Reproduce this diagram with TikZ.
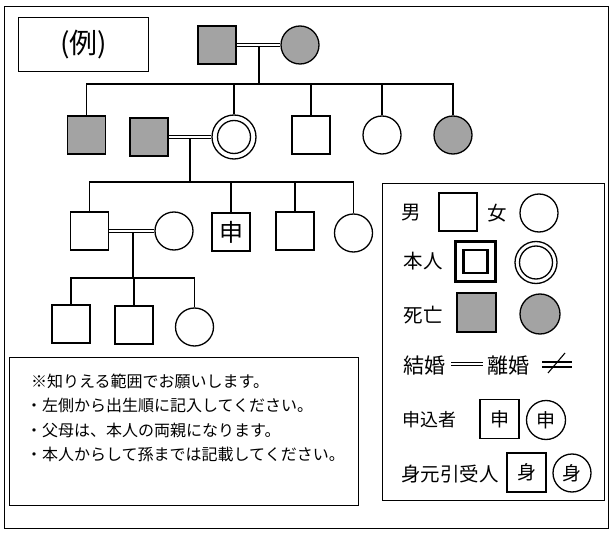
\documentclass[tikz,border=0pt]{standalone}
\usepackage{fontspec}
\setmainfont{Noto Sans CJK JP}
\usetikzlibrary{backgrounds}
\definecolor{deadgray}{gray}{0.64}
\begin{document}
\begin{tikzpicture}[x=1pt,y=-1pt,
  sq/.style={draw, rectangle, fill=white, minimum size=38pt, inner sep=0pt, line width=1.3pt},
  ci/.style={draw, circle, fill=white, minimum size=38pt, inner sep=0pt, line width=1.3pt},
  dead/.style={fill=deadgray},
  link/.style={line width=1.1pt},
  marry/.style={double, double distance=2.8pt, line width=1pt},
  selfci/.style={ci, minimum size=44pt, path picture={\draw[line width=1.3pt] (path picture bounding box.center) circle (16.5pt);}},
  selfsq/.style={sq, minimum size=40pt, line width=2.3pt, path picture={\draw[line width=2.3pt] (path picture bounding box.center) ++(-12pt,-11.5pt) rectangle ++(24pt,23pt);}},
  box/.style={draw, line width=1.3pt, anchor=north west, inner sep=0pt},
  lbl/.style={inner sep=0pt, font=\fontsize{19.5}{19.5}\selectfont},
  note/.style={inner sep=0pt, anchor=west, font=\fontsize{16}{16}\selectfont},
  sym/.style={font=\fontsize{19}{19}\selectfont}
]
\useasboundingbox (0,0) rectangle (613,540);
% frames
\node[box, minimum width=604pt, minimum height=522pt] (frame) at (4,6) {};
\node[box, minimum width=130pt, minimum height=54pt] (ex) at (18,17) {};
\node[font=\fontsize{28}{28}\selectfont, inner sep=0pt] (extxt) at (ex.center) {(例)};

% generation 1
\node[sq,dead] (gf) at (217,45) {};
\node[ci,dead] (gm) at (300,45) {};
\coordinate (m1) at (259,45);
\coordinate (bar1) at (259,84);

% generation 2
\node[sq,dead] (c1) at (86.5,135) {};
\node[sq,dead] (s2) at (149,137) {};
\node[selfci] (me) at (234,137) {};
\node[sq] (c4) at (311,135) {};
\node[ci] (c5) at (382,135) {};
\node[ci,dead] (c6) at (453,135) {};
\coordinate (m2) at (190,137);
\coordinate (bar2) at (190,182);

% generation 3
\node[sq] (d1) at (89.5,231) {};
\node[ci] (d2) at (174,231) {};
\node[sq, font=\fontsize{24}{24}\selectfont] (d3) at (231,232) {申};
\node[sq] (d4) at (295,231) {};
\node[ci] (d5) at (353.5,233) {};
\coordinate (m3) at (133,231);
\coordinate (bar3) at (133,278);

% generation 4
\node[sq] (e1) at (71,324) {};
\node[sq] (e2) at (134,325) {};
\node[ci] (e3) at (194.5,327) {};

\begin{scope}[on background layer]
  \draw[link] (m1) -- (bar1);
  \draw[link] (c1.north) |- (bar1) -| (c6.north);
  \draw[link] (me.north) -- (me.north |- bar1);
  \draw[link] (c4.north) -- (c4.north |- bar1);
  \draw[link] (c5.north) -- (c5.north |- bar1);
  \draw[link] (m2) -- (bar2);
  \draw[link] (d1.north) |- (bar2) -| (d5.north);
  \draw[link] (d3.north) -- (d3.north |- bar2);
  \draw[link] (d4.north) -- (d4.north |- bar2);
  \draw[link] (m3) -- (bar3);
  \draw[link] (e1.north) |- (bar3) -| (e3.north);
  \draw[link] (e2.north) -- (e2.north |- bar3);
  \draw[marry] (gf.east) -- (gm.west);
  \draw[marry] (s2.east) -- (me.west);
  \draw[marry] (d1.east) -- (d2.west);
\end{scope}

% notes
\node[box, minimum width=349pt, minimum height=148pt] (notes) at (9,357) {};
\node[note] (n1) at (31,381) {※知りえる範囲でお願いします。};
\node[note] (n2) at (26,405.5) {・左側から出生順に記入してください。};
\node[note] (n3) at (26,430) {・父母は、本人の両親になります。};
\node[note] (n4) at (26,454.5) {・本人からして孫までは記載してください。};

% legend
\node[box, minimum width=222pt, minimum height=317pt] (leg) at (382,183) {};
\node[lbl] (tm) at (411,213) {男};
\node[sq] (lm) at (458,212) {};
\node[lbl] (tf) at (497,213) {女};
\node[ci] (lf) at (539,213) {};
\node[lbl] (tself) at (423,261) {本人};
\node[selfsq] (lsm) at (475.5,261.5) {};
\node[selfci, minimum size=42pt] (lsf) at (536,262.5) {};
\node[lbl] (tdead) at (423,315) {死亡};
\node[sq,dead,minimum size=39pt] (ldm) at (476.5,312.5) {};
\node[ci,dead,minimum size=40pt] (ldf) at (540,314) {};
\node[lbl, font=\fontsize{21}{21}\selectfont] (tmar) at (424,366) {結婚};
\coordinate (ma) at (451,364);
\coordinate (mb) at (483,364);
\draw[marry] (ma) -- (mb);
\node[lbl, font=\fontsize{21}{21}\selectfont] (tdiv) at (508,366) {離婚};
\coordinate (da1) at (542,362);
\coordinate (db1) at (572,362);
\coordinate (da2) at (542,367);
\coordinate (db2) at (572,367);
\coordinate (ds1) at (548,373);
\coordinate (ds2) at (565,353);
\draw[link] (da1) -- (db1);
\draw[link] (da2) -- (db2);
\draw[link] (ds1) -- (ds2);
\node[lbl, font=\fontsize{18}{18}\selectfont] (tapp) at (429,420) {申込者};
\node[sq,minimum size=39pt,sym] (la) at (499.5,419) {申};
\node[ci,minimum size=39pt,sym] (lb) at (546,420) {申};
\node[lbl] (tgu) at (450,474) {身元引受人};
\node[sq,minimum size=39pt,sym] (lg) at (526.5,472.5) {身};
\node[ci,sym] (lh) at (572,473) {身};
\end{tikzpicture}
\end{document}
